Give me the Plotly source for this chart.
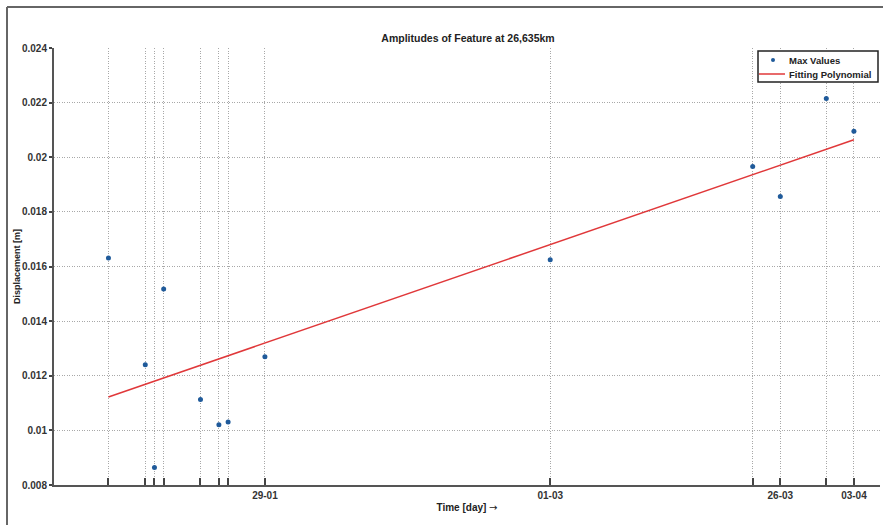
import plotly.graph_objects as go

# ---- data ----
dates = ["2011-01-12", "2011-01-16", "2011-01-17", "2011-01-18", "2011-01-22",
         "2011-01-24", "2011-01-25", "2011-01-29", "2011-03-01", "2011-03-23",
         "2011-03-26", "2011-03-31", "2011-04-03"]
max_values = [0.01631, 0.0124, 0.00864, 0.01518, 0.01113, 0.01021, 0.01031,
              0.0127, 0.01625, 0.01966, 0.01856, 0.02215, 0.02095]
fit_dates = ["2011-01-12", "2011-04-03"]
fit_values = [0.01122, 0.02064]
tick_text = ["", "", "", "", "", "", "", "29-01", "01-03", "", "26-03", "", "03-04"]
y_ticks = [0.008, 0.01, 0.012, 0.014, 0.016, 0.018, 0.02, 0.022, 0.024]
y_tick_text = ["0.008", "0.01", "0.012", "0.014", "0.016", "0.018", "0.02", "0.022", "0.024"]
legend_names = ["Max Values", "Fitting Polynomial"]

FONT = "Liberation Sans, Arial, sans-serif"
MARKER_COLOR = "#1f5a9a"
LINE_COLOR = "#e0383a"

fig = go.Figure()
fig.add_trace(go.Scatter(
    x=dates, y=max_values, mode="markers", name=legend_names[0],
    marker=dict(color=MARKER_COLOR, size=5), showlegend=False,
))
fig.add_trace(go.Scatter(
    x=fit_dates, y=fit_values, mode="lines", name=legend_names[1],
    line=dict(color=LINE_COLOR, width=1.5), showlegend=False,
))

L, R, T, B = 54, 3, 48, 40
W, H = 883, 525
pw = W - L - R
ph = H - T - B

def px_x(p):
    return (p - L) / pw

def px_y(p):
    return (H - B - p) / ph

shapes = [
    # outer frame
    dict(type="line", xref="paper", yref="paper",
         x0=px_x(7), x1=px_x(7), y0=px_y(7), y1=px_y(530),
         line=dict(color="#666666", width=2)),
    dict(type="line", xref="paper", yref="paper",
         x0=px_x(7), x1=px_x(890), y0=px_y(7), y1=px_y(7),
         line=dict(color="#666666", width=2)),
    # legend box
    dict(type="rect", xref="paper", yref="paper",
         x0=px_x(758), x1=px_x(878), y0=px_y(82), y1=px_y(51),
         fillcolor="white", line=dict(color="#222222", width=1.5), layer="above"),
    # legend marker
    dict(type="circle", xref="paper", yref="paper",
         x0=px_x(771), x1=px_x(775), y0=px_y(62), y1=px_y(58),
         fillcolor=MARKER_COLOR, line=dict(color=MARKER_COLOR, width=0), layer="above"),
    # legend line
    dict(type="line", xref="paper", yref="paper",
         x0=px_x(759), x1=px_x(785), y0=px_y(74), y1=px_y(74),
         line=dict(color=LINE_COLOR, width=1.5), layer="above"),
]

annotations = [
    dict(text=legend_names[0], xref="paper", yref="paper", x=px_x(787), y=px_y(60),
         xanchor="left", yanchor="middle", showarrow=False,
         font=dict(family=FONT, size=9.5, color="#222222", weight="bold")),
    dict(text=legend_names[1], xref="paper", yref="paper", x=px_x(787), y=px_y(74),
         xanchor="left", yanchor="middle", showarrow=False,
         font=dict(family=FONT, size=9.5, color="#222222", weight="bold")),
]

grid_kw = dict(showgrid=True, gridcolor="#a8a8a8", griddash="1px,1.5px", gridwidth=1)

fig.update_layout(
    width=W, height=H,
    margin=dict(l=L, r=R, t=T, b=B),
    paper_bgcolor="white", plot_bgcolor="white",
    font=dict(family=FONT, size=10, color="#333333", weight="bold"),
    title=dict(text="Amplitudes of Feature at 26,635km", x=468 / W, xanchor="center",
               y=1 - 38 / H, yanchor="middle",
               font=dict(family=FONT, size=10.5, color="#222222", weight="bold")),
    showlegend=False,
    xaxis=dict(
        type="date",
        range=["2011-01-06 02:00:00", "2011-04-05 20:00:00"],
        tickmode="array", tickvals=dates, ticktext=tick_text,
        ticks="inside", ticklen=7, tickwidth=1.5, tickcolor="#444444",
        showline=True, linecolor="#555555", linewidth=2,
        zeroline=False,
        tickfont=dict(family=FONT, size=10, color="#333333", weight="bold"),
        title=dict(text="Time [day] <span style='font-family:DejaVu Sans;font-weight:normal'>\u2192</span>",
                   standoff=4,
                   font=dict(family=FONT, size=10, color="#222222", weight="bold")),
        **grid_kw,
    ),
    yaxis=dict(
        range=[0.008, 0.024],
        tickmode="array", tickvals=y_ticks, ticktext=y_tick_text,
        ticks="outside", ticklen=3, tickwidth=1.5, tickcolor="#444444",
        showline=True, linecolor="#555555", linewidth=2,
        zeroline=False,
        tickfont=dict(family=FONT, size=10, color="#333333", weight="bold"),
        title=dict(text="Displacement [m]", standoff=0,
                   font=dict(family=FONT, size=9, color="#222222", weight="bold")),
        **grid_kw,
    ),
    shapes=shapes,
    annotations=annotations,
)

fig.write_html("out.html")
